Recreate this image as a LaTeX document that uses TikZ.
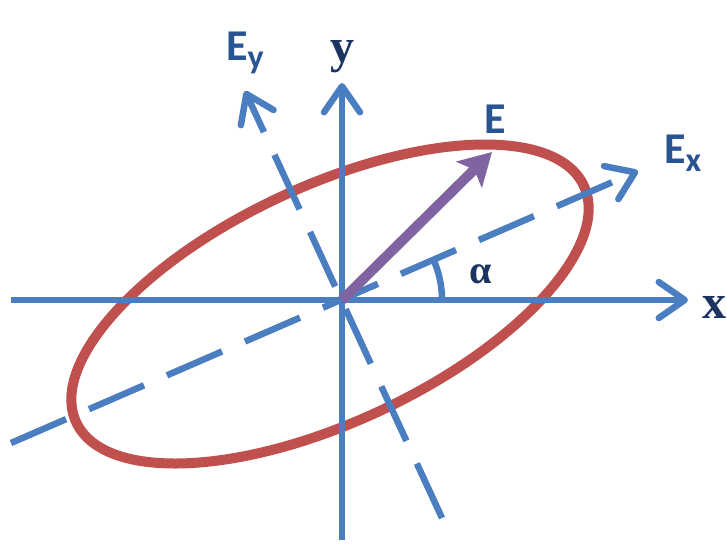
\documentclass[tikz,border=0pt]{standalone}
\usepackage{fontspec}
\setmainfont{Liberation Serif}
\newfontfamily\calib{Carlito}
\usetikzlibrary{arrows.meta}
\definecolor{axisblue}{RGB}{74,126,193}
\definecolor{ellred}{RGB}{192,80,77}
\definecolor{vecpurple}{RGB}{128,100,162}
\definecolor{elabel}{RGB}{40,84,145}
\definecolor{dlabel}{RGB}{28,52,98}
\begin{document}
\begin{tikzpicture}[x=1pt,y=-1pt,
  axisline/.style={draw=axisblue, line width=6.5pt},
  barb/.style={-{Straight Barb[length=26pt,width=36pt,round]}},
  dashaxis/.style={axisline, dash pattern=on 60pt off 25pt},
  ellipseline/.style={draw=ellred, line width=10pt},
  vector/.style={draw=vecpurple, line width=10pt, -{Stealth[length=32pt,width=36pt,inset=7pt]}},
  elab/.style={anchor=base west, inner sep=0pt, text=elabel, font=\calib\fontsize{44}{44}\selectfont\bfseries},
  dlab/.style={inner sep=0pt, text=dlabel, font=\fontsize{48}{48}\selectfont\bfseries},
]
\useasboundingbox (0,0) rectangle (727,544);
% coordinates
\coordinate (O) at (342,300);
\coordinate (C) at (330,304);
\coordinate (xs) at (11,300);
\coordinate (xt) at (688,300);
\coordinate (ys) at (342,540);
\coordinate (yt) at (342,83);
\coordinate (exs) at (11,443);
\coordinate (ext) at (638,171);
\coordinate (eys) at (442,518);
\coordinate (eyt) at (245,91);
\coordinate (Et) at (492,152);
\coordinate (arcS) at (442,300);
% ellipse
\draw[ellipseline, rotate around={25:(C)}] (C) ellipse[x radius=280, y radius=118];
% axes
\draw[axisline, barb] (xs) -- (xt);
\draw[axisline, barb] (ys) -- (yt);
\draw[dashaxis, barb] (exs) -- (ext);
\draw[dashaxis, barb] (eys) -- (eyt);
\draw[axisline] (arcS) arc[start angle=0, end angle=-23.5, radius=100];
% vector
\draw[vector] (O) -- (Et);
% labels
\node[elab] (lEy) at (226,60) {E\raisebox{-8pt}{\fontsize{34}{34}\selectfont y}};
\node[elab] (lE) at (484,133) {E};
\node[elab] (lEx) at (664,163) {E\raisebox{-8pt}{\fontsize{34}{34}\selectfont x}};
\node[dlab, anchor=base west] (lx) at (702,318) {x};
\node[dlab, anchor=base] (ly) at (342,62) {y};
\node[dlab, anchor=base west, font=\fontsize{40}{40}\selectfont\bfseries] (la) at (469,283) {α};
\end{tikzpicture}
\end{document}
